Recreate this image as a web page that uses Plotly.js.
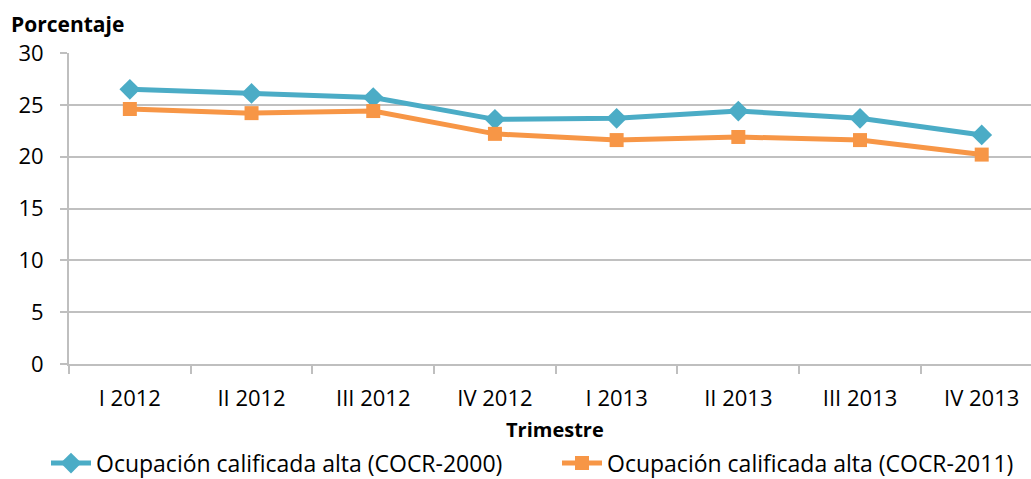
<!DOCTYPE html>
<html><head><meta charset="utf-8">
<script src="https://cdn.plot.ly/plotly-3.0.1.min.js"></script>
<style>html,body{margin:0;padding:0;background:#fff}#c{width:1031px;height:479px}</style>
</head><body><div id="c"></div>
<script>
const categories = ["I 2012","II 2012","III 2012","IV 2012","I 2013","II 2013","III 2013","IV 2013"];
const cocr2000 = [26.5, 26.1, 25.7, 23.6, 23.7, 24.4, 23.7, 22.1];
const cocr2011 = [24.6, 24.2, 24.4, 22.2, 21.6, 21.9, 21.6, 20.2];
const seriesNames = ["Ocupación calificada alta (COCR-2000)", "Ocupación calificada alta (COCR-2011)"];
const yTicks = [0,5,10,15,20,25,30];

const FONT = "'Open Sans', sans-serif";
const traces = [
  {x: categories, y: cocr2000, name: seriesNames[0], type: "scatter", mode: "lines+markers",
   legend: "legend",
   line: {color: "#4BACC6", width: 5}, marker: {symbol: "diamond", size: 16, color: "#4BACC6"}},
  {x: categories, y: cocr2011, name: seriesNames[1], type: "scatter", mode: "lines+markers",
   legend: "legend2",
   line: {color: "#F79646", width: 5}, marker: {symbol: "square", size: 14, color: "#F79646"}}
];
const legendBase = {orientation: "h", xref: "container", yref: "container", xanchor: "left",
           y: 0.078, yanchor: "top", font: {family: FONT, size: 23, color: "#000"}, itemwidth: 40,
           bgcolor: "rgba(0,0,0,0)"};
const layout = {
  width: 1031, height: 479,
  margin: {l: 69, r: 0, t: 53, b: 115, autoexpand: false},
  paper_bgcolor: "#fff", plot_bgcolor: "#fff",
  font: {family: FONT, size: 22, color: "#000"},
  showlegend: true,
  legend: Object.assign({}, legendBase, {x: 46/1031}),
  legend2: Object.assign({}, legendBase, {x: 557/1031}),
  xaxis: {type: "category", range: [-0.5, 7.405], showgrid: false, automargin: false,
          showline: true, linecolor: "#BFBFBF", linewidth: 2,
          ticks: "outside", ticklen: 8, tickcolor: "#BFBFBF", tickwidth: 2,
          tickson: "boundaries", tickfont: {family: FONT, size: 22}, ticklabelstandoff: 14,
          fixedrange: true},
  yaxis: {range: [0, 30], tickvals: yTicks, showgrid: true, gridcolor: "#C0C0C0", gridwidth: 2,
          showline: true, linecolor: "#BFBFBF", linewidth: 2, zeroline: false, automargin: false,
          ticks: "outside", ticklen: 7, tickcolor: "#BFBFBF", tickwidth: 2, ticklabelstandoff: 12,
          tickfont: {family: FONT, size: 22}, fixedrange: true},
  annotations: [
    {text: "<b>Porcentaje</b>", xref: "paper", yref: "paper", x: 0, y: 1, xshift: -60, yshift: 29,
     xanchor: "left", yanchor: "middle", showarrow: false,
     font: {family: FONT, size: 21, color: "#000"}},
    {text: "<b>Trimestre</b>", xref: "paper", yref: "paper", x: (555-69)/962, y: 0, yshift: -65,
     xanchor: "center", yanchor: "middle", showarrow: false,
     font: {family: FONT, size: 20, color: "#000"}}
  ]
};
Plotly.newPlot("c", traces, layout, {displayModeBar: false, staticPlot: true});
</script></body></html>
